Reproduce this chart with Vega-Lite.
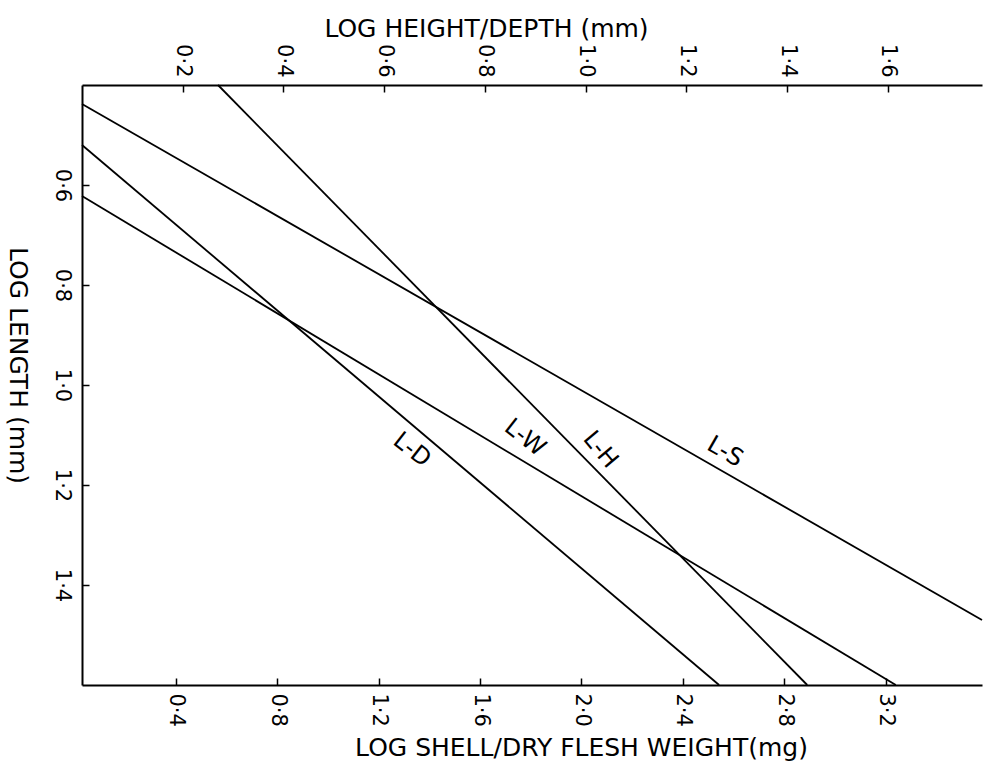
{
  "$schema": "https://vega.github.io/schema/vega-lite/v6.json",
  "width": 900,
  "height": 600,
  "autosize": "none",
  "padding": {"left": 82, "top": 85, "right": 1, "bottom": 76},
  "background": "white",
  "config": {
    "view": {"stroke": null},
    "axis": {
      "grid": false,
      "domainColor": "black",
      "domainWidth": 2,
      "tickColor": "black",
      "tickWidth": 1.5,
      "tickSize": -7,
      "labelFont": "DejaVu Sans",
      "labelFontSize": 21,
      "labelColor": "black",
      "labelAngle": 90,
      "labelPadding": 15,
      "labelExpr": "replace(format(datum.value, '.1f'), '.', '·')",
      "titleFont": "DejaVu Sans",
      "titleFontSize": 25,
      "titleFontWeight": "normal",
      "titleColor": "black"
    }
  },
  "datasets": {
    "hd": [
      {"series": "L-D", "height_depth": 0.0, "log_length": 0.52},
      {"series": "L-D", "height_depth": 1.265, "log_length": 1.6},
      {"series": "L-H", "height_depth": 0.27, "log_length": 0.4},
      {"series": "L-H", "height_depth": 1.44, "log_length": 1.6}
    ],
    "wt": [
      {"series": "L-W", "weight": 0.03, "log_length": 0.622},
      {"series": "L-W", "weight": 3.24, "log_length": 1.6},
      {"series": "L-S", "weight": 0.03, "log_length": 0.438},
      {"series": "L-S", "weight": 3.58, "log_length": 1.47}
    ],
    "hdlab": [
      {"label": "L-D", "height_depth": 0.655, "log_length": 1.13},
      {"label": "L-H", "height_depth": 1.029, "log_length": 1.13}
    ],
    "wtlab": [
      {"label": "L-W", "weight": 1.777, "log_length": 1.106},
      {"label": "L-S", "weight": 2.566, "log_length": 1.134}
    ]
  },
  "layer": [
    {
      "layer": [
        {
          "data": {"name": "hd"},
          "mark": {"type": "line", "color": "black", "strokeWidth": 1.8},
          "encoding": {
            "x": {
              "field": "height_depth", "type": "quantitative",
              "scale": {"domain": [0, 1.787], "nice": false, "zero": false},
              "axis": {
                "orient": "top",
                "title": "LOG HEIGHT/DEPTH (mm)",
                "values": [0.2, 0.4, 0.6, 0.8, 1.0, 1.2, 1.4, 1.6],
                "labelAlign": "right",
                "labelBaseline": "middle",
                "titleX": 404,
                "titleY": -49,
                "titleAnchor": "middle",
                "titleAlign": "center",
                "titleBaseline": "alphabetic"
              }
            },
            "y": {
              "field": "log_length", "type": "quantitative",
              "scale": {"domain": [0.4, 1.6], "reverse": true, "nice": false, "zero": false},
              "axis": {
                "orient": "left",
                "title": "LOG LENGTH (mm)",
                "values": [0.6, 0.8, 1.0, 1.2, 1.4],
                "labelAlign": "center",
                "labelBaseline": "top",
                "labelPadding": 17,
                "titleAngle": 90,
                "titleX": -65,
                "titleY": 280,
                "titleAlign": "center",
                "titleBaseline": "middle"
              }
            },
            "detail": {"field": "series"}
          }
        },
        {
          "data": {"name": "hdlab"},
          "transform": [{"filter": "datum.label === 'L-D'"}],
          "mark": {"type": "text", "font": "DejaVu Sans", "fontSize": 24, "angle": 38, "color": "black"},
          "encoding": {
            "x": {"field": "height_depth", "type": "quantitative"},
            "y": {"field": "log_length", "type": "quantitative"},
            "text": {"field": "label"}
          }
        },
        {
          "data": {"name": "hdlab"},
          "transform": [{"filter": "datum.label === 'L-H'"}],
          "mark": {"type": "text", "font": "DejaVu Sans", "fontSize": 24, "angle": 50, "color": "black"},
          "encoding": {
            "x": {"field": "height_depth", "type": "quantitative"},
            "y": {"field": "log_length", "type": "quantitative"},
            "text": {"field": "label"}
          }
        }
      ]
    },
    {
      "layer": [
        {
          "data": {"name": "wt"},
          "mark": {"type": "line", "color": "black", "strokeWidth": 1.8},
          "encoding": {
            "x": {
              "field": "weight", "type": "quantitative",
              "scale": {"domain": [0.03, 3.58], "nice": false, "zero": false},
              "axis": {
                "orient": "bottom",
                "title": "LOG SHELL/DRY FLESH WEIGHT(mg)",
                "values": [0.4, 0.8, 1.2, 1.6, 2.0, 2.4, 2.8, 3.2],
                "labelAlign": "left",
                "labelBaseline": "middle",
                "titleX": 499,
                "titleY": 70,
                "titleAnchor": "middle",
                "titleAlign": "center",
                "titleBaseline": "alphabetic"
              }
            },
            "y": {"field": "log_length", "type": "quantitative"},
            "detail": {"field": "series"}
          }
        },
        {
          "data": {"name": "wtlab"},
          "transform": [{"filter": "datum.label === 'L-W'"}],
          "mark": {"type": "text", "font": "DejaVu Sans", "fontSize": 24, "angle": 38, "color": "black"},
          "encoding": {
            "x": {"field": "weight", "type": "quantitative"},
            "y": {"field": "log_length", "type": "quantitative"},
            "text": {"field": "label"}
          }
        },
        {
          "data": {"name": "wtlab"},
          "transform": [{"filter": "datum.label === 'L-S'"}],
          "mark": {"type": "text", "font": "DejaVu Sans", "fontSize": 24, "angle": 30, "color": "black"},
          "encoding": {
            "x": {"field": "weight", "type": "quantitative"},
            "y": {"field": "log_length", "type": "quantitative"},
            "text": {"field": "label"}
          }
        }
      ]
    }
  ],
  "resolve": {"scale": {"x": "independent"}}
}
